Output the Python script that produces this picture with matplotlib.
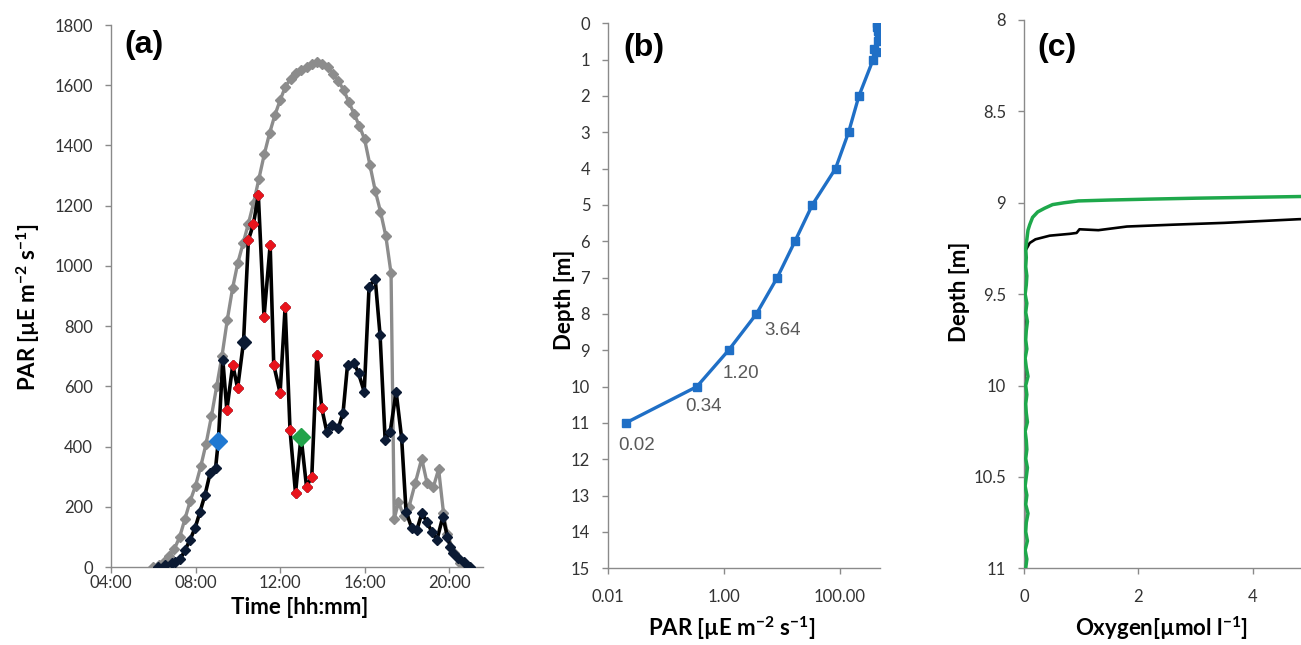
import matplotlib.pyplot as plt
from matplotlib.ticker import FixedLocator, FuncFormatter

plt.rcParams["font.family"] = ["Lato", "DejaVu Sans"]
plt.rcParams["mathtext.fontset"] = "custom"
plt.rcParams["mathtext.rm"] = "Lato"
plt.rcParams["mathtext.it"] = "Lato:italic"
plt.rcParams["mathtext.bf"] = "Lato:bold"

# ---- (a) surface PAR through the day (time in decimal hours) ----
clear_hours = [6.0, 6.25, 6.5, 6.75, 7.0, 7.25, 7.5, 7.75, 8.0, 8.25, 8.5, 8.75,
               9.0, 9.25, 9.5, 9.75, 10.0, 10.25, 10.5, 10.75, 11.0, 11.25, 11.5,
               11.75, 12.0, 12.25, 12.5, 12.75, 13.0, 13.25, 13.5, 13.75, 14.0,
               14.25, 14.5, 14.75, 15.0, 15.25, 15.5, 15.75, 16.0, 16.25, 16.5,
               16.75, 17.0, 17.25, 17.4, 17.6, 17.85, 18.1, 18.4, 18.7, 18.95,
               19.25, 19.5, 19.73, 19.9, 20.25, 20.5, 20.7]
clear_par = [0, 5, 18, 38, 60, 100, 160, 220, 270, 335, 410, 500,
             600, 700, 820, 925, 1010, 1075, 1140, 1210, 1290, 1370, 1440,
             1500, 1550, 1595, 1622, 1640, 1652, 1662, 1670, 1677, 1670,
             1660, 1638, 1615, 1585, 1545, 1505, 1465, 1420, 1335, 1250,
             1180, 1100, 975, 160, 215, 170, 200, 280, 360, 280,
             265, 325, 180, 110, 45, 12, 0]

meas_hours = [6.24, 6.56, 6.87, 7.05, 7.27, 7.5, 7.74, 7.98, 8.21, 8.45, 8.69,
              8.95, 9.08, 9.29, 9.48, 9.76, 9.99, 10.27, 10.5, 10.74, 10.97,
              11.24, 11.53, 11.7, 12.0, 12.24, 12.47, 12.73, 12.99, 13.25, 13.5,
              13.74, 13.97, 14.21, 14.45, 14.76, 14.98, 15.19, 15.5, 15.71,
              15.98, 16.21, 16.5, 16.73, 16.97, 17.21, 17.49, 17.75, 17.96,
              18.23, 18.47, 18.71, 18.94, 19.18, 19.42, 19.7, 19.92, 20.05,
              20.2, 20.44, 20.68, 20.99]
meas_par = [0, 7, 13, 18, 25, 56, 90, 130, 183, 240, 312,
            330, 420, 688, 521, 671, 594, 748, 1086, 1139, 1235,
            831, 1069, 671, 578, 864, 455, 245, 433, 267, 300,
            704, 528, 449, 472, 462, 513, 671, 677, 644,
            582, 931, 957, 770, 422, 449, 582, 428, 184,
            129, 123, 179, 150, 117, 90, 167, 100, 67,
            46, 30, 18, 0]

# sampling window shown in red, and the three highlighted times
red_window = (9.4, 14.0)
blue_hour = 9.08
black_hour = 10.27
green_hour = 12.99

# ---- (b) underwater light profile ----
depth_b = [0, 0.1, 0.2, 0.3, 0.5, 0.7, 0.8, 1.0, 2, 3, 4, 5, 6, 7, 8, 9, 10, 11]
par_b = [443, 450, 470, 490, 470, 400, 420, 380, 216, 143, 85, 33.7, 16.9,
         8.35, 3.64, 1.20, 0.34, 0.02]
labelled_depths = [8, 9, 10, 11]

# ---- (c) oxygen profiles ----
green_depth = [11.0, 10.95, 10.9, 10.85, 10.8, 10.75, 10.7, 10.65, 10.6, 10.55,
               10.5, 10.45, 10.4, 10.35, 10.3, 10.25, 10.2, 10.15, 10.1, 10.05,
               10.0, 9.95, 9.9, 9.85, 9.8, 9.75, 9.7, 9.65, 9.6, 9.55, 9.5,
               9.45, 9.4, 9.35, 9.3, 9.25, 9.2, 9.15, 9.12, 9.08, 9.05, 9.03,
               9.01, 9.0, 8.99, 8.985, 8.98, 8.975, 8.97, 8.965, 8.96]
green_o2 = [0.03, 0.05, 0.02, 0.06, 0.03, 0.04, 0.07, 0.03, 0.05, 0.02,
            0.04, 0.06, 0.03, 0.05, 0.04, 0.02, 0.06, 0.04, 0.03, 0.05,
            0.03, 0.07, 0.04, 0.02, 0.05, 0.03, 0.04, 0.06, 0.03, 0.05, 0.02,
            0.04, 0.05, 0.03, 0.04, 0.03, 0.05, 0.07, 0.1, 0.15, 0.24, 0.36,
            0.5, 0.7, 0.95, 1.5, 2.2, 3.0, 4.0, 5.0, 6.0]
black_depth = [11.0, 9.4, 9.31, 9.26, 9.22, 9.2, 9.18, 9.17, 9.165, 9.145,
               9.15, 9.13, 9.12, 9.11, 9.09, 9.08]
black_o2 = [0.0, 0.01, 0.01, 0.03, 0.1, 0.2, 0.45, 0.8, 0.92, 0.97, 1.3,
            1.8, 2.6, 3.5, 4.8, 6.0]

AXIS_GREY = "#8a8a8a"
TICK_TEXT = "#333333"
W, H = 1301, 645


def px_axes(fig, left, top, right, bottom):
    return fig.add_axes([left / W, 1 - bottom / H, (right - left) / W, (bottom - top) / H])


def excel_style(ax, xpad):
    for side in ("top", "right"):
        ax.spines[side].set_visible(False)
    for side in ("left", "bottom"):
        ax.spines[side].set_color(AXIS_GREY)
        ax.spines[side].set_linewidth(1.0)
    ax.tick_params(axis="y", colors=AXIS_GREY, labelcolor=TICK_TEXT, labelsize=12,
                   length=4, width=1, pad=9)
    ax.tick_params(axis="x", colors=AXIS_GREY, labelcolor=TICK_TEXT, labelsize=12,
                   length=4, width=1, pad=xpad)
    ax.tick_params(which="minor", length=0)


fig = plt.figure(figsize=(W / 100, H / 100), dpi=100)
label_kw = dict(fontsize=16, fontweight="bold", color="black")
panel_kw = dict(fontsize=23, fontweight="bold", family=["Liberation Sans"])

# ---------------- (a) ----------------
ax = px_axes(fig, 111, 25, 483, 567)
ax.plot(clear_hours, clear_par, color="#8c8c8c", lw=2.4, marker="D", ms=4.6,
        mfc="#8c8c8c", mec="#8c8c8c", zorder=2)
ax.plot(meas_hours, meas_par, color="black", lw=2.6, marker="D", ms=4.6,
        mfc="#0b1a33", mec="#0b1a33", zorder=3)
red_h = [h for h in meas_hours if red_window[0] <= h <= red_window[1]]
red_v = [v for h, v in zip(meas_hours, meas_par) if red_window[0] <= h <= red_window[1]]
ax.plot(red_h, red_v, ls="none", marker="D", ms=5.1, mfc="#e8141c", mec="#e8141c", zorder=4)
for hour, colour, size in ((blue_hour, "#1f78d1", 8.7), (black_hour, "#0b1a33", 7.2),
                           (green_hour, "#22a34a", 8.7)):
    val = meas_par[meas_hours.index(hour)]
    ax.plot([hour], [val], ls="none", marker="D", ms=size, mfc=colour, mec=colour, zorder=5)

ax.set_xlim(4, 21.6)
ax.set_ylim(0, 1800)
ax.xaxis.set_major_locator(FixedLocator([4, 8, 12, 16, 20]))
ax.xaxis.set_major_formatter(FuncFormatter(lambda h, _: f"{int(h):02d}:00"))
ax.set_yticks(range(0, 1801, 200))
excel_style(ax, xpad=1.5)
ax.set_xlabel("Time [hh:mm]", **label_kw)
ax.xaxis.set_label_coords(0.508, -0.056)
ax.set_ylabel(r"PAR [µE m$^{\mathbf{-2}}$ s$^{\mathbf{-1}}$]", **label_kw)
ax.yaxis.set_label_coords(-0.186, 0.48)
ax.text(0.036, 0.99, "(a)", transform=ax.transAxes, va="top", **panel_kw)

# ---------------- (b) ----------------
ax = px_axes(fig, 608.3, 23.3, 880, 568.3)
ax.plot(par_b, depth_b, color="#1f6fc6", lw=2.4, marker="s", ms=5.5,
        mfc="#1f6fc6", mec="#1f6fc6")
ax.set_xscale("log")
ax.set_xlim(0.01, 500)
ax.set_ylim(15, 0)
ax.xaxis.set_major_locator(FixedLocator([0.01, 1, 100]))
ax.xaxis.set_major_formatter(FuncFormatter(lambda v, _: f"{v:.2f}"))
ax.xaxis.set_minor_locator(FixedLocator([]))
ax.set_yticks(range(0, 16))
excel_style(ax, xpad=11)
offsets = {8: (19, -12), 9: (9, -17), 10: (5, -14), 11: (8, -16)}
for d in labelled_depths:
    v = par_b[depth_b.index(d)]
    ax.annotate(f"{v:.2f}", (v, d), xytext=offsets[d], textcoords="offset points",
                ha="center", va="center", fontsize=13.5, color="#595959",
                family=["Liberation Sans"])
ax.set_xlabel(r"PAR [µE m$^{\mathbf{-2}}$ s$^{\mathbf{-1}}$]", **label_kw)
ax.xaxis.set_label_coords(0.454, -0.084)
ax.set_ylabel("Depth [m]", **label_kw)
ax.yaxis.set_label_coords(-0.122, 0.492)
ax.text(0.054, 0.982, "(b)", transform=ax.transAxes, va="top", **panel_kw)

# ---------------- (c) ----------------
ax = px_axes(fig, 1024, 20, 1024 + 6 * 57.2, 568.3)
ax.plot(black_o2, black_depth, color="black", lw=1.9, zorder=2)
ax.plot(green_o2, green_depth, color="#1ea84b", lw=2.5, zorder=3)
ax.set_xlim(0, 6)
ax.set_ylim(11, 8)
ax.set_xticks([0, 2, 4])
ax.set_yticks([8, 8.5, 9, 9.5, 10, 10.5, 11])
ax.yaxis.set_major_formatter(FuncFormatter(lambda v, _: f"{v:g}"))
excel_style(ax, xpad=11)
ax.set_xlabel(r"Oxygen[µmol l$^{\mathbf{-1}}$]", **label_kw)
ax.xaxis.set_label_coords(0.402, -0.084)
ax.set_ylabel("Depth [m]", **label_kw)
ax.yaxis.set_label_coords(-0.157, 0.504)
ax.text(0.038, 0.976, "(c)", transform=ax.transAxes, va="top", **panel_kw)

fig.savefig("out.png", dpi=100)
